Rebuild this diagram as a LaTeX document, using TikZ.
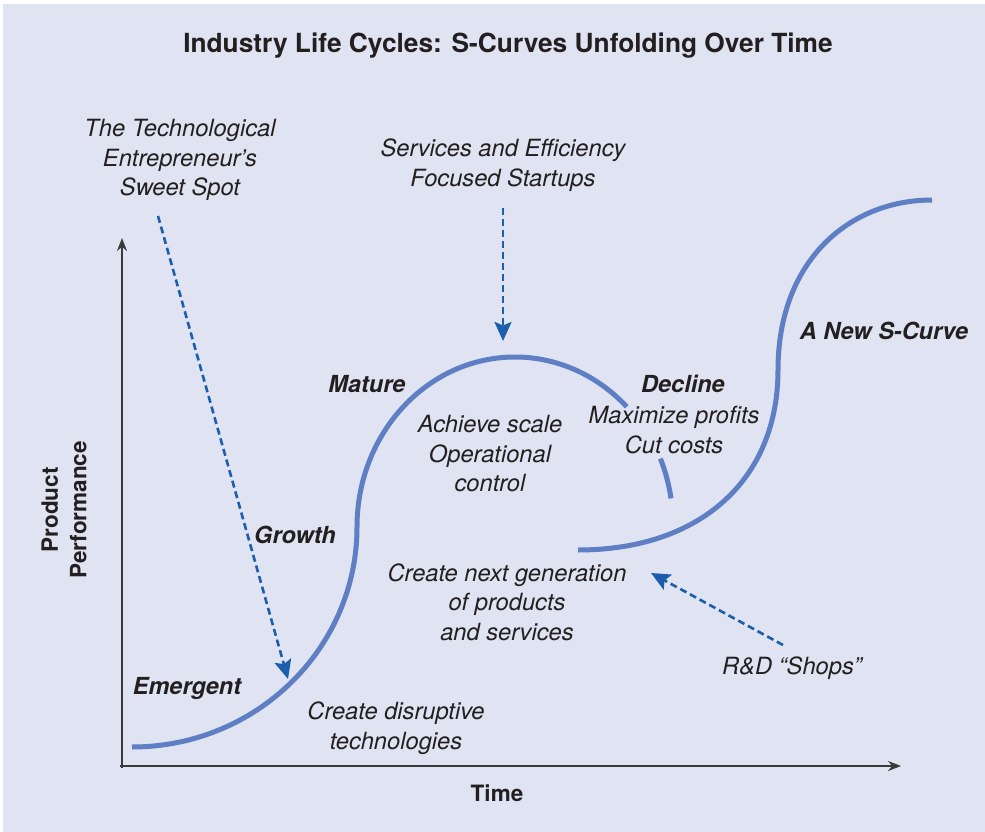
\documentclass[tikz,border=0pt]{standalone}
\usepackage{fontspec}
\setmainfont{TeX Gyre Heros}
\usetikzlibrary{arrows.meta}
\definecolor{panel}{HTML}{E0E3F2}
\definecolor{curveblue}{HTML}{5E7FC3}
\definecolor{arrowblue}{HTML}{1B5EAC}
\definecolor{ink}{HTML}{231F20}
\definecolor{axisgray}{HTML}{3A3A3C}

\begin{document}
\begin{tikzpicture}[x=1pt,y=-1pt,
  note/.style={font=\fontsize{23.7}{29.5}\selectfont\itshape,align=center,text=ink,inner sep=0pt},
  phase/.style={font=\fontsize{23.5}{29.5}\selectfont\bfseries\itshape,text=ink,inner sep=0pt},
  axislabel/.style={font=\fontsize{22.5}{28.5}\selectfont\bfseries,align=center,text=ink,inner sep=0pt},
  scurve/.style={curveblue,line width=5pt},
  axisline/.style={axisgray,line width=1.8pt,-{Stealth[length=13pt,width=10pt]}},
  pointer/.style={arrowblue,line width=2.6pt,dash pattern=on 7pt off 4pt,-{Stealth[length=19pt,width=17pt,inset=3.5pt]}}]
\useasboundingbox (0,0) rectangle (985,832);
\fill[white] (0,0) rectangle (985,832); \fill[panel] (3,4) rectangle (985,832);

% title and axes
\node[font=\fontsize{26.3}{30}\selectfont\bfseries,text=ink,inner sep=0pt] (title) at (508,46) {Industry Life Cycles: S-Curves Unfolding Over Time};
\coordinate (origin) at (122,768); \coordinate (ytop) at (122,238);
\coordinate (xstart) at (120,766); \coordinate (xend) at (901,766);
\draw[axisline] (origin) -- (ytop); \draw[axisline] (xstart) -- (xend);
\node[axislabel] (time) at (497,793) {Time};
\node[axislabel,rotate=90] (perf) at (64,510) {Product\\Performance};

% first S-curve, the decline part broken by its text
\draw[scurve] (132,747) arc[start angle=90,end angle=0,x radius=225,y radius=220]
  arc[start angle=180,end angle=315,x radius=158,y radius=170];
\draw[scurve] (660.4,458.6) arc[start angle=337,end angle=351,x radius=158,y radius=170];
% second S-curve
\draw[scurve] (578,550) .. controls (700,550) and (778,480) .. (778,370) .. controls (778,260) and (850,200) .. (932,200);

% phases
\node[phase] (emergent) at (187,688) {Emergent};
\node[phase] (growth) at (295,535) {Growth};
\node[phase] (mature) at (367,384) {Mature};
\node[phase] (decline) at (683,384) {Decline};
\node[phase] (newcurve) at (884,331) {A New S-Curve};

% notes
\node[note] (scale) at (490,454) {Achieve scale\\Operational\\control};
\node[note] (profits) at (674,430) {Maximize profits\\Cut costs};
\node[note] (nextgen) at (507,602) {Create next generation\\of products\\and services};
\node[note] (disrupt) at (396,728) {Create disruptive\\technologies};

% who plays where
\node[note] (sweetspot) at (180,160) {The Technological\\Entrepreneur’s\\Sweet Spot};
\node[note] (services) at (503,165) {Services and Efficiency\\Focused Startups};
\node[note] (shops) at (792,668) {R\&D “Shops”};
\coordinate (sweet-tail) at (158,216); \coordinate (sweet-tip) at (288,679);
\coordinate (services-tail) at (503,208); \coordinate (services-tip) at (503,341);
\coordinate (shops-tail) at (783,645); \coordinate (shops-tip) at (651,573);
\draw[pointer] (sweet-tail) -- (sweet-tip);
\draw[pointer] (services-tail) -- (services-tip);
\draw[pointer] (shops-tail) -- (shops-tip);
\end{tikzpicture}
\end{document}
